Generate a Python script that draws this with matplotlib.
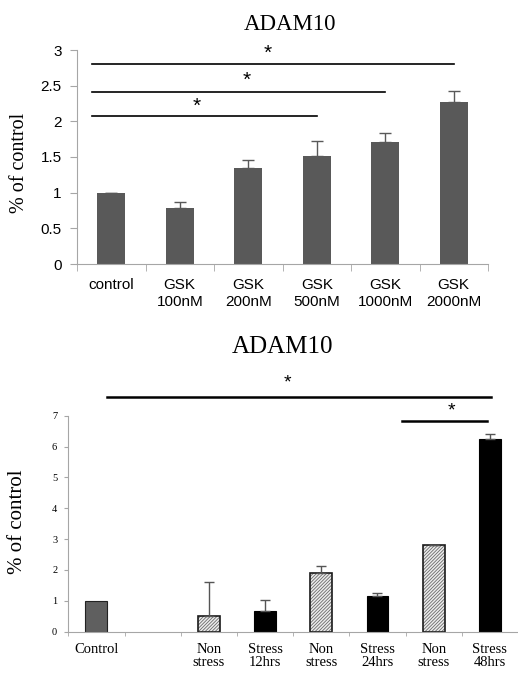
import matplotlib
matplotlib.use("Agg")
import matplotlib.pyplot as plt
import numpy as np

# ---- data: top chart ----
top_labels = ["control", "GSK\n100nM", "GSK\n200nM", "GSK\n500nM", "GSK\n1000nM", "GSK\n2000nM"]
top_values = [1.0, 0.79, 1.35, 1.52, 1.71, 2.27]
top_err = [0.0, 0.08, 0.11, 0.21, 0.13, 0.15]
top_sig = [(-0.28, 3.0, 2.07, 1.25, 2.21), (-0.28, 4.0, 2.41, 1.98, 2.58), (-0.28, 5.0, 2.80, 2.29, 2.96)]

# ---- data: bottom chart ----
bot_labels = ["Control", "", "Non\nstress", "Stress\n12hrs", "Non\nstress",
              "Stress\n24hrs", "Non\nstress", "Stress\n48hrs"]
bot_values = [1.0, np.nan, 0.52, 0.67, 1.89, 1.16, 2.80, 6.23]
bot_err = [0.0, 0.0, 1.10, 0.35, 0.24, 0.08, 0.02, 0.18]
bot_kind = ["control", "none", "non", "stress", "non", "stress", "non", "stress"]
bot_sig = [(0.18, 7.02, 7.62, 3.4, 8.05), (5.43, 6.95, 6.83, 6.31, 7.16)]

matplotlib.rcParams["hatch.linewidth"] = 0.6

W, H = 518, 674
fig = plt.figure(figsize=(W / 100, H / 100), dpi=100)

serif = ["Liberation Serif", "DejaVu Serif"]
sans = ["Liberation Sans", "DejaVu Sans"]
spine_c = "#a6a6a6"

# ---------------- top chart ----------------
ax1 = fig.add_axes([77 / W, 1 - 264 / H, (488 - 77) / W, (264 - 50) / H])
x1 = np.arange(len(top_values))
ax1.bar(x1, top_values, width=0.41, color="#595959", zorder=2)
ax1.errorbar(x1, top_values, yerr=[np.zeros(len(top_err)), top_err], fmt="none",
             ecolor="#595959", elinewidth=1.0, capsize=4, capthick=1.0, zorder=3)
ax1.set_xlim(-0.5, len(top_values) - 0.5)
ax1.set_ylim(0, 3)
ax1.set_yticks(np.arange(0, 3.01, 0.5))
ax1.set_yticklabels(["0", "0.5", "1", "1.5", "2", "2.5", "3"], family=sans, fontsize=11)
ax1.set_xticks(x1)
ax1.set_xticklabels(top_labels, family=sans, fontsize=11, linespacing=1.25)
ax1.set_xticks(np.arange(-0.5, len(top_values), 1.0), minor=True)
ax1.tick_params(axis="x", which="major", length=0, pad=10)
ax1.tick_params(axis="x", which="minor", length=5, color=spine_c, direction="out")
ax1.tick_params(axis="y", length=5, color=spine_c, direction="out", pad=6)
for s in ["top", "right"]:
    ax1.spines[s].set_visible(False)
for s in ["left", "bottom"]:
    ax1.spines[s].set_color(spine_c)
for x0, xe, y, xs, ys in top_sig:
    ax1.plot([x0, xe], [y, y], color="black", lw=1.2, clip_on=False)
    ax1.text(xs, ys, "*", ha="center", va="center", fontsize=15, family=sans)
fig.text(290 / W, 1 - 25 / H, "ADAM10", ha="center", va="center", family=serif, fontsize=16.5)
fig.text(20 / W, 1 - 163 / H, "% of control", ha="center", va="center", rotation=90,
         family=serif, fontsize=14.5)

# ---------------- bottom chart ----------------
ax2 = fig.add_axes([68.3 / W, 1 - 631.7 / H, (518 - 68.3) / W, (631.7 - 415.7) / H])
x2 = np.arange(len(bot_values))
for xi, v, k in zip(x2, bot_values, bot_kind):
    if k == "control":
        ax2.bar(xi, v, width=0.39, color="#5f5f5f", edgecolor="#222222", lw=0.8, zorder=2)
    elif k == "stress":
        ax2.bar(xi, v, width=0.39, color="black", edgecolor="black", lw=0.8, zorder=2)
    elif k == "non":
        ax2.bar(xi, v, width=0.39, color="#ececec", edgecolor="#6a6a6a", lw=0,
                hatch="//////////", zorder=2)
        ax2.bar(xi, v, width=0.39, fill=False, edgecolor="#1a1a1a", lw=1.2, zorder=2.5)
for xi, v, e in zip(x2, bot_values, bot_err):
    if np.isnan(v) or e == 0:
        continue
    ax2.errorbar([xi], [v], yerr=[[0], [e]], fmt="none", ecolor="#555555",
                 elinewidth=1.0, capsize=3.5, capthick=1.0, zorder=3)
ax2.set_xlim(-0.5, 7.47)
ax2.set_ylim(0, 7)
ax2.set_yticks(np.arange(0, 8))
ax2.set_yticklabels([str(i) for i in range(8)], family=serif, fontsize=7.5)
ax2.set_xticks(x2)
ax2.set_xticklabels(bot_labels, family=serif, fontsize=10.5, linespacing=1.05)
ax2.set_xticks(np.arange(-0.5, len(bot_values), 1.0), minor=True)
ax2.tick_params(axis="x", which="major", length=0, pad=8)
ax2.tick_params(axis="x", which="minor", length=3, color=spine_c, direction="out")
ax2.tick_params(axis="y", length=3, color=spine_c, direction="out", pad=5)
for s in ["top", "right"]:
    ax2.spines[s].set_visible(False)
for s in ["left", "bottom"]:
    ax2.spines[s].set_color(spine_c)
for x0, xe, y, xs, ys in bot_sig:
    ax2.plot([x0, xe], [y, y], color="black", lw=1.8, clip_on=False)
    ax2.text(xs, ys, "*", ha="center", va="center", fontsize=14, family=sans)
fig.text(282 / W, 1 - 347 / H, "ADAM10", ha="center", va="center", family=serif, fontsize=18)
fig.text(18 / W, 1 - 522 / H, "% of control", ha="center", va="center", rotation=90,
         family=serif, fontsize=15)

fig.savefig("out.png", dpi=100)
